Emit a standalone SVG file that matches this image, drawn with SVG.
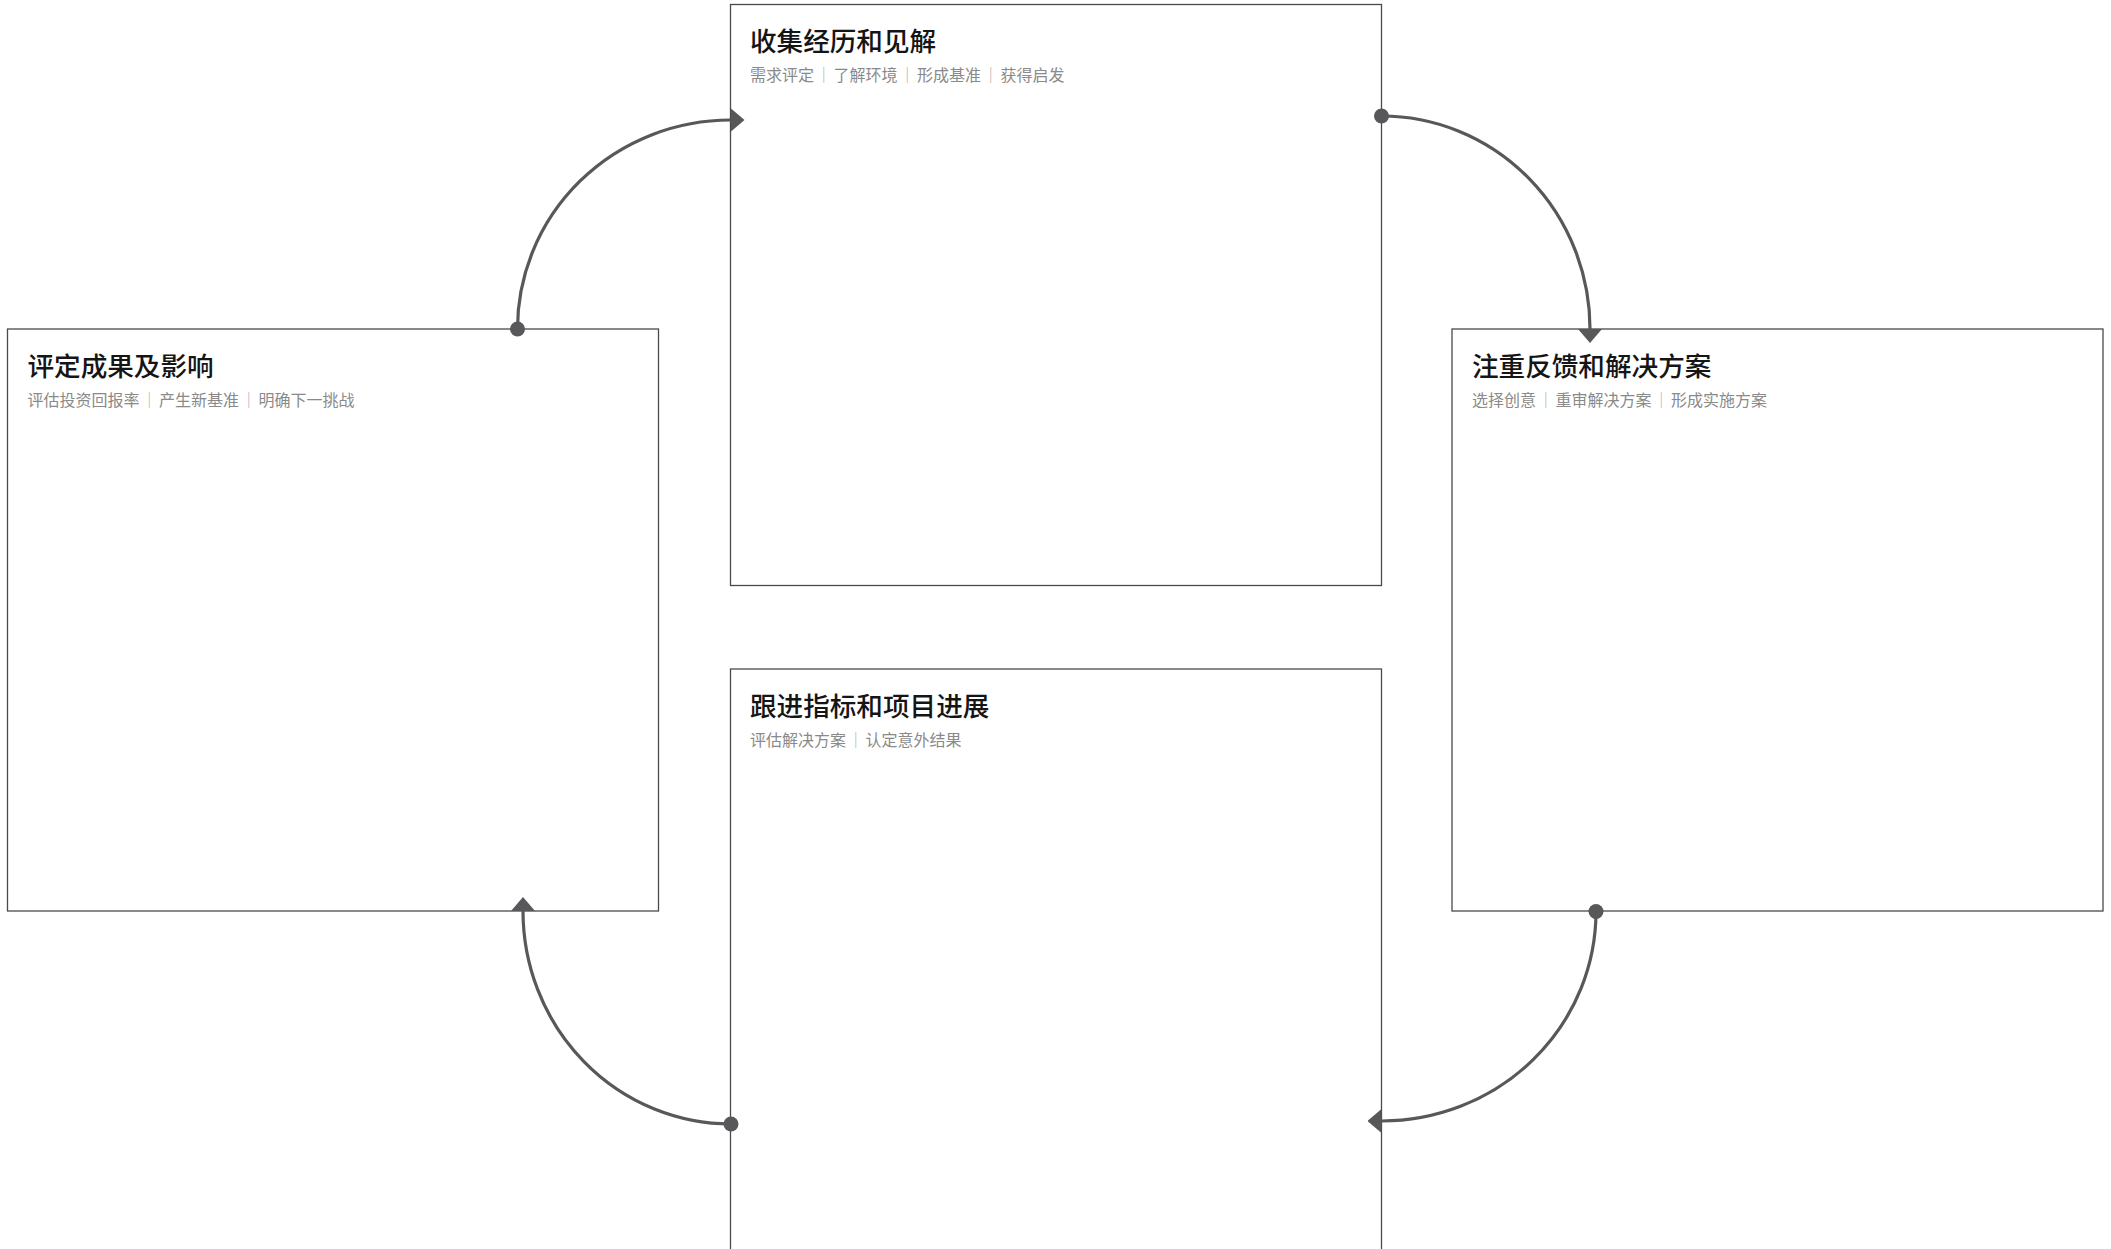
<svg xmlns="http://www.w3.org/2000/svg" width="2111" height="1249" viewBox="0 0 2111 1249">
<style>
.box{fill:#ffffff;stroke:#4a4a4a;stroke-width:1.3}
.title{font-family:"Noto Sans CJK SC","Noto Sans",sans-serif;font-size:26.6px;font-weight:500;fill:#151515}
.sub{font-family:"Noto Sans CJK SC","Noto Sans",sans-serif;font-size:16px;fill:#8a8a8a}
.bar{fill:#b0b0b0}
.conn{fill:none;stroke:#58585a;stroke-width:3.2}
</style>
<defs>
<marker id="arrow" markerUnits="userSpaceOnUse" viewBox="0 0 14 24" refX="0" refY="12" markerWidth="14" markerHeight="24" orient="auto">
<path d="M0,0 L14,12 L0,24 z" fill="#58585a"/>
</marker>
<marker id="dot" markerUnits="userSpaceOnUse" viewBox="0 0 16 16" refX="8" refY="8" markerWidth="16" markerHeight="16" orient="auto">
<circle cx="8" cy="8" r="7.5" fill="#58585a"/>
</marker>
</defs>
<rect width="2111" height="1249" fill="#ffffff"/>
<g id="node-top">
<rect class="box" x="730.5" y="4.5" width="651" height="581"/>
<text class="title" x="750" y="51">收集经历和见解</text>
<text class="sub" y="81"><tspan x="750">需求评定</tspan><tspan class="bar" x="823.75" text-anchor="middle">｜</tspan><tspan x="833.5">了解环境</tspan><tspan class="bar" x="907.25" text-anchor="middle">｜</tspan><tspan x="917">形成基准</tspan><tspan class="bar" x="990.75" text-anchor="middle">｜</tspan><tspan x="1000.5">获得启发</tspan></text>
</g>
<g id="node-left">
<rect class="box" x="7.5" y="329" width="651" height="582"/>
<text class="title" x="27.5" y="376">评定成果及影响</text>
<text class="sub" y="406"><tspan x="27.5">评估投资回报率</tspan><tspan class="bar" x="149.25" text-anchor="middle">｜</tspan><tspan x="159">产生新基准</tspan><tspan class="bar" x="248.75" text-anchor="middle">｜</tspan><tspan x="258.5">明确下一挑战</tspan></text>
</g>
<g id="node-right">
<rect class="box" x="1452" y="329" width="651" height="582"/>
<text class="title" x="1472" y="376">注重反馈和解决方案</text>
<text class="sub" y="406"><tspan x="1472">选择创意</tspan><tspan class="bar" x="1545.75" text-anchor="middle">｜</tspan><tspan x="1555.5">重审解决方案</tspan><tspan class="bar" x="1661.25" text-anchor="middle">｜</tspan><tspan x="1671">形成实施方案</tspan></text>
</g>
<g id="node-bottom">
<rect class="box" x="730.5" y="669" width="651" height="582"/>
<text class="title" x="750" y="716">跟进指标和项目进展</text>
<text class="sub" y="746"><tspan x="750">评估解决方案</tspan><tspan class="bar" x="855.75" text-anchor="middle">｜</tspan><tspan x="865.5">认定意外结果</tspan></text>
</g>
<g id="connectors">
<path class="conn" d="M517.5,329 A213,209 0 0 1 730.5,120" marker-start="url(#dot)" marker-end="url(#arrow)"/>
<path class="conn" d="M1381.5,116 A208.5,213 0 0 1 1590,329" marker-start="url(#dot)" marker-end="url(#arrow)"/>
<path class="conn" d="M1596,911.5 A214.5,209.5 0 0 1 1381.5,1121" marker-start="url(#dot)" marker-end="url(#arrow)"/>
<path class="conn" d="M731,1124 A208,213 0 0 1 523,911" marker-start="url(#dot)" marker-end="url(#arrow)"/>
</g>
</svg>
